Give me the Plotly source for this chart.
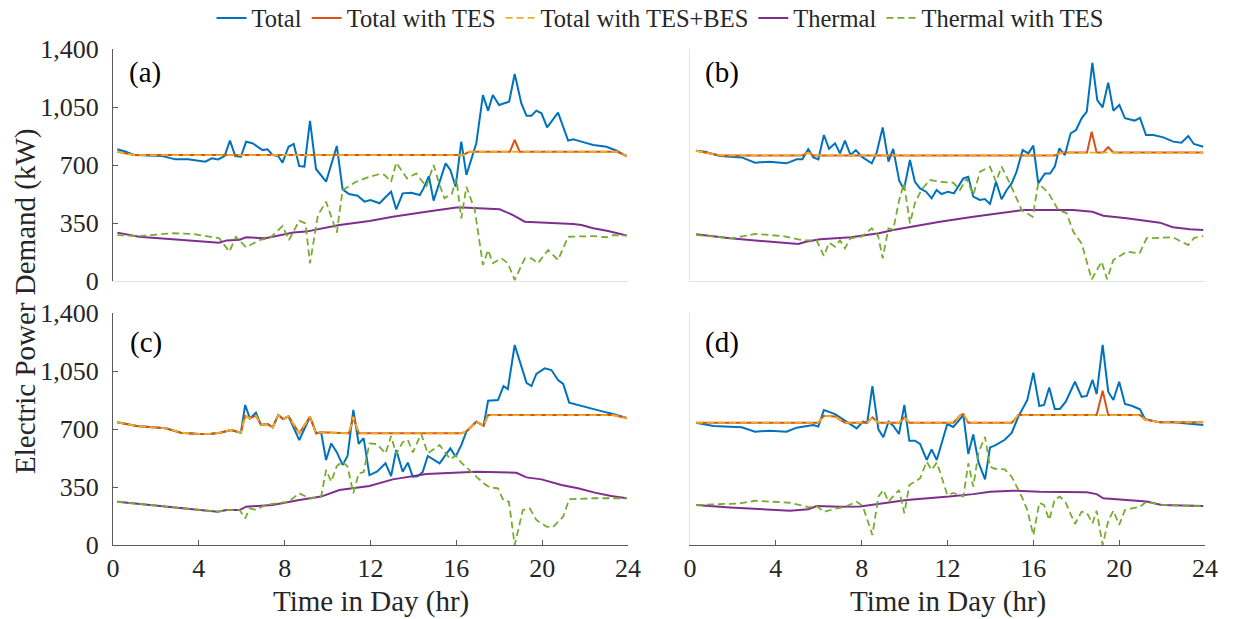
import plotly.graph_objects as go
from plotly.subplots import make_subplots

# ---------------- Panel (a) ----------------
A_TOTAL_T = [0.2,0.6,1.0,2.3,2.9,3.5,4.3,4.6,4.9,5.2,5.45,5.7,5.96,6.2,6.5,6.74,6.97,7.2,7.44,7.7,7.9,8.18,8.42,8.68,8.92,9.18,9.46,9.93,10.43,10.7,11.0,11.4,11.72,12.0,12.42,12.65,12.96,13.2,13.5,13.9,14.3,14.47,14.72,14.94,15.3,15.5,15.72,15.97,16.23,16.47,16.93,17.24,17.48,17.7,17.99,18.46,18.72,19.03,19.27,19.5,19.73,19.97,20.23,20.74,21.21,21.45,21.83,22.38,23.0,23.47,23.94]
A_TOTAL = [795,780,760,754,734,734,720,740,734,754,847,754,750,840,831,810,790,795,760,754,714,810,827,694,690,967,676,599,815,553,525,515,479,489,469,499,539,432,529,533,519,559,633,485,633,710,670,569,841,640,831,1122,1028,1122,1062,1082,1249,1072,997,997,1028,1012,927,1016,847,855,841,821,810,786,754]
A_TES_T = [0.2,1.0,16.3,16.6,18.5,18.72,18.95,23.5,23.94]
A_TES = [780,760,760,780,780,851,780,780,754]
A_BES = [780,760,760,780,780,780,780,780,754]
A_TH_T = [0.2,1.21,4.95,5.3,5.9,6.2,7.1,7.9,8.4,9.0,9.5,10.55,11.95,13.04,14.6,16.0,16.3,18.02,18.64,19.19,21.44,21.83,22.38,23.07,23.94]
A_TH = [292,267,231,245,249,264,258,278,292,298,312,338,362,388,418,444,444,433,398,358,344,338,318,302,274]
A_THT_T = [0.2,1.2,2.77,3.7,4.95,5.42,5.73,6.2,6.86,7.3,7.9,8.2,8.68,8.97,9.18,9.55,9.93,10.43,10.7,11.33,11.95,12.42,12.65,12.96,13.2,13.7,14.13,14.6,14.94,15.22,15.45,15.8,16.0,16.23,16.47,16.86,17.24,17.48,17.7,18.1,18.4,18.72,19.19,19.5,19.8,20.28,20.74,21.21,22.38,23.0,23.3,23.94]
A_THT = [277,271,288,284,258,177,267,203,249,258,332,247,364,348,107,398,478,292,549,599,629,645,640,599,714,619,649,569,700,579,499,529,619,378,569,428,97,187,107,137,107,6,137,137,107,187,127,267,271,264,277,274]

# ---------------- Panel (b) ----------------
B_TOTAL_T = [0.28,0.7,1.4,2.41,3.03,3.7,4.5,4.97,5.24,5.51,5.75,5.98,6.24,6.48,6.76,6.99,7.22,7.48,7.73,8.0,8.47,8.7,8.98,9.25,9.47,9.75,9.97,10.25,10.48,10.72,11.0,11.26,11.49,11.72,12.03,12.3,12.74,12.97,13.2,13.5,13.74,13.98,14.26,14.52,14.76,14.99,15.22,15.5,15.77,16.0,16.23,16.54,16.78,17.0,17.21,17.47,17.74,17.99,18.25,18.49,18.75,18.98,19.23,19.49,19.73,20.01,20.27,20.72,20.97,21.25,21.6,22.06,22.52,22.9,23.22,23.48,23.92]
B_TOTAL = [786,780,754,746,714,720,710,734,734,795,746,734,881,798,831,770,847,760,790,750,710,775,927,720,797,605,553,730,599,559,539,499,549,525,539,529,619,629,509,489,495,465,599,493,549,589,660,790,770,817,589,649,649,690,800,760,891,911,982,1022,1317,1092,1048,1197,1028,1062,982,968,984,881,881,867,841,835,875,827,810]
B_TES_T = [0.28,1.4,5.24,5.51,5.75,17.0,17.3,18.5,18.72,18.95,19.25,19.49,19.73,23.92]
B_TES = [786,758,758,775,758,758,775,775,901,775,775,807,775,775]
B_BES = [786,758,758,775,758,758,775,775,775,775,775,775,775,775]
B_TH_T = [0.28,1.86,5.05,5.4,6.06,7.5,8.8,9.47,11.65,13.2,15.53,17.86,18.75,19.26,20.35,21.9,22.5,23.3,23.92]
B_TH = [282,258,223,237,252,264,288,308,358,388,428,428,418,394,378,352,324,312,308]
B_THT_T = [0.28,2.0,3.03,4.35,5.05,5.4,5.9,6.24,6.48,6.76,6.99,7.22,7.48,8.0,8.47,8.77,8.98,9.25,9.47,9.75,9.97,10.25,10.48,10.78,11.18,11.65,12.27,12.58,12.89,13.2,13.52,13.98,14.26,14.52,14.91,15.46,15.97,16.23,16.7,17.16,17.55,17.86,18.25,18.72,19.18,19.44,19.73,20.03,20.35,20.95,21.28,22.5,23.22,23.5,23.92]
B_THT = [278,258,284,271,251,245,245,151,231,207,245,197,258,268,318,270,137,318,310,489,589,348,469,549,609,599,593,549,619,519,660,690,599,690,589,428,388,589,533,428,410,298,227,10,117,10,127,150,177,167,258,264,217,260,271]

# ---------------- Panel (c) ----------------
C_TOTAL_T = [0.2,1.1,2.46,3.16,4.0,4.5,4.98,5.5,5.96,6.16,6.38,6.66,6.9,7.2,7.44,7.7,7.93,8.18,8.68,9.18,9.47,9.7,9.93,10.17,10.43,10.7,10.93,11.2,11.45,11.68,11.95,12.3,12.7,12.96,13.2,13.5,13.74,13.97,14.2,14.43,14.67,15.22,15.72,15.97,16.23,16.47,16.93,17.27,17.48,17.94,18.2,18.4,18.72,19.27,19.5,19.73,20.12,20.43,20.74,20.98,21.26,22.38,22.85,23.3,23.94]
C_TOTAL = [741,718,704,678,670,670,678,694,678,845,764,798,724,730,710,784,760,776,633,774,674,680,513,613,560,483,537,815,611,645,422,442,493,416,573,442,497,412,415,440,537,493,583,533,603,684,744,720,871,875,959,941,1207,979,959,1032,1066,1056,996,972,859,819,805,791,766]
C_TES_T = [0.2,1.1,2.46,3.16,4.0,4.5,4.98,5.5,5.96,6.16,6.38,6.66,6.9,7.2,7.44,7.7,7.93,8.18,8.68,9.18,9.47,9.7,11.0,11.2,11.45,16.23,16.47,16.93,17.27,17.48,23.3,23.94]
C_TES = [741,718,704,678,670,670,678,694,678,780,764,780,724,730,710,784,760,776,674,774,674,680,674,774,674,674,686,744,720,784,784,766]
C_BES = [741,718,704,678,670,670,678,694,678,780,764,780,724,730,710,784,760,776,674,774,674,680,674,774,674,674,686,744,720,784,784,766]
C_TH_T = [0.2,2.46,4.87,5.3,5.9,6.2,7.44,8.68,9.7,10.55,11.95,13.04,14.6,16.15,16.93,18.8,19.27,19.97,20.9,21.67,22.45,23.22,23.94]
C_TH = [261,231,201,211,211,231,241,272,292,332,356,396,428,438,442,436,408,396,362,342,316,296,282]
C_THT_T = [0.2,2.46,4.87,5.3,5.9,6.16,6.38,6.66,7.1,8.18,8.68,9.18,9.7,9.93,10.17,10.43,10.7,10.93,11.2,11.45,11.68,11.95,12.3,12.7,12.96,13.2,13.5,13.74,13.97,14.36,14.67,15.22,15.72,15.97,16.23,16.78,17.27,17.55,17.94,18.2,18.45,18.72,19.1,19.42,19.73,20.2,20.5,20.98,21.26,22.38,23.3,23.94]
C_THT = [261,231,201,211,211,161,221,211,241,262,312,280,292,453,382,477,503,473,312,432,440,613,609,553,658,549,621,635,559,670,553,603,517,540,497,432,372,348,342,267,261,0,211,221,151,111,107,171,276,282,282,282]

# ---------------- Panel (d) ----------------
D_TOTAL_T = [0.28,1.09,2.41,3.03,3.7,4.5,4.97,5.75,5.98,6.24,6.76,7.22,7.77,8.05,8.26,8.5,8.78,9.01,9.25,9.47,9.74,9.99,10.22,10.48,10.72,11.03,11.26,11.5,11.8,11.99,12.27,12.74,12.97,13.2,13.45,13.75,13.98,14.2,14.67,14.99,15.3,15.72,16.0,16.28,16.5,16.74,17.0,17.24,17.51,17.94,18.25,18.49,18.76,18.95,19.23,19.49,19.73,20.0,20.27,20.58,20.97,21.2,21.9,22.52,23.92]
D_TOTAL = [738,718,710,684,690,684,708,724,715,815,790,750,704,744,738,959,698,650,744,720,670,845,629,629,610,513,577,513,640,730,712,784,549,667,497,396,589,600,635,676,774,875,1040,839,845,951,821,821,865,985,894,900,996,911,1207,925,875,985,851,840,819,760,740,740,724]
D_TES_T = [0.28,5.98,6.24,6.76,7.22,8.26,8.5,8.78,9.74,9.99,10.22,12.27,12.6,12.74,12.97,15.0,15.3,18.95,19.23,19.49,20.97,21.2,21.9,23.92]
D_TES = [738,738,780,775,738,738,770,738,738,770,738,738,784,790,738,738,784,784,931,784,784,757,740,740]
D_BES = [738,738,780,775,738,738,770,738,738,770,738,738,784,790,738,738,784,784,784,784,784,757,740,740]
D_TH_T = [0.28,1.86,4.66,5.51,5.9,6.99,7.93,8.87,10.1,12.08,13.2,13.98,15.06,16.3,18.49,18.95,19.26,20.35,21.28,21.98,23.92]
D_TH = [241,227,207,215,235,231,233,251,272,292,307,322,328,322,318,307,282,272,262,241,235]
D_THT_T = [0.28,2.33,3.03,4.66,5.59,5.9,6.24,6.76,7.22,7.77,8.05,8.5,8.78,9.01,9.25,9.74,9.99,10.22,10.72,11.03,11.26,11.5,11.65,11.99,12.27,12.74,12.97,13.2,13.45,13.75,13.98,14.2,14.67,14.99,15.46,15.72,16.0,16.28,16.5,16.74,17.0,17.24,17.51,17.94,18.25,18.49,18.76,18.95,19.23,19.49,19.73,20.0,20.27,20.97,21.28,21.98,23.92]
D_THT = [241,251,267,255,227,235,199,219,231,261,235,60,292,332,262,332,191,362,402,503,453,497,442,302,314,292,493,352,560,653,473,460,456,412,292,211,60,255,241,151,276,292,255,127,201,195,131,207,0,145,207,121,211,231,262,241,235]

SERIES_NAMES = ["Total", "Total with TES", "Total with TES+BES", "Thermal", "Thermal with TES"]
Y_TICKS = [0, 350, 700, 1050, 1400]
Y_TICK_TEXT = ["0", "350", "700", "1,050", "1,400"]
X_TICKS = [0, 4, 8, 12, 16, 20, 24]
PANEL_LABELS = ["(a)", "(b)", "(c)", "(d)"]

COLORS = ["#0072BD", "#D95319", "#EDB120", "#7E2F8E", "#77AC30"]
DASHES = ["solid", "solid", "7px,4px", "solid", "7px,4px"]
WIDTHS = [2, 2, 1.8, 2, 1.8]
FONT = "'Liberation Serif', 'Times New Roman', Tinos, 'DejaVu Serif', serif"
DARK = "#5a5a5a"
LIGHT = "#e3e3e3"

panels = [
    (1, 1, [(A_TOTAL_T, A_TOTAL), (A_TES_T, A_TES), (A_TES_T, A_BES), (A_TH_T, A_TH), (A_THT_T, A_THT)]),
    (1, 2, [(B_TOTAL_T, B_TOTAL), (B_TES_T, B_TES), (B_TES_T, B_BES), (B_TH_T, B_TH), (B_THT_T, B_THT)]),
    (2, 1, [(C_TOTAL_T, C_TOTAL), (C_TES_T, C_TES), (C_TES_T, C_BES), (C_TH_T, C_TH), (C_THT_T, C_THT)]),
    (2, 2, [(D_TOTAL_T, D_TOTAL), (D_TES_T, D_TES), (D_TES_T, D_BES), (D_TH_T, D_TH), (D_THT_T, D_THT)]),
]

fig = make_subplots(rows=2, cols=2)
for i, (r, c, series) in enumerate(panels):
    for j, (t, v) in enumerate(series):
        assert len(t) == len(v), (i, j, len(t), len(v))
        fig.add_trace(go.Scatter(
            x=t, y=v, mode="lines", name=SERIES_NAMES[j], legendgroup=SERIES_NAMES[j],
            showlegend=(i == 0),
            line=dict(color=COLORS[j], width=WIDTHS[j], dash=DASHES[j]),
        ), row=r, col=c)

W, H = 1233, 619
ML, MR, MT, MB = 113, 28, 49, 74
PW, PH = W - ML - MR, H - MT - MB

def px_x(x):
    return (x - ML) / PW

def px_y(y):
    return (H - MB - y) / PH

xl = [0.0, px_x(628)]
xr = [px_x(690), 1.0]
yt = [px_y(281), 1.0]
yb = [0.0, px_y(313)]

tickfont = dict(family=FONT, size=26, color="#262626")

def xaxis_cfg(domain, bottom):
    d = dict(domain=domain, range=[0, 24], showgrid=False, zeroline=False, showline=True,
             linewidth=1, fixedrange=True)
    if bottom:
        d.update(linecolor=DARK, ticks="inside", ticklen=5, tickcolor=DARK, tickvals=X_TICKS,
                 showticklabels=True, tickfont=tickfont, ticklabelstandoff=0)
    else:
        d.update(linecolor=LIGHT, ticks="", showticklabels=False)
    return d

def yaxis_cfg(domain, left):
    d = dict(domain=domain, range=[0, 1400], showgrid=False, zeroline=False, showline=True,
             linewidth=1, fixedrange=True)
    if left:
        d.update(linecolor=DARK, ticks="inside", ticklen=5, tickcolor=DARK, tickvals=Y_TICKS,
                 ticktext=Y_TICK_TEXT, showticklabels=True, tickfont=tickfont, ticklabelstandoff=8)
    else:
        d.update(linecolor=LIGHT, ticks="", showticklabels=False)
    return d

fig.update_layout(
    width=W, height=H,
    margin=dict(l=ML, r=MR, t=MT, b=MB, autoexpand=False),
    paper_bgcolor="white", plot_bgcolor="white",
    font=dict(family=FONT, color="#262626"),
    xaxis=xaxis_cfg(xl, False), yaxis=yaxis_cfg(yt, True),
    xaxis2=xaxis_cfg(xr, False), yaxis2=yaxis_cfg(yt, False),
    xaxis3=xaxis_cfg(xl, True), yaxis3=yaxis_cfg(yb, True),
    xaxis4=xaxis_cfg(xr, True), yaxis4=yaxis_cfg(yb, False),
    legend=dict(orientation="h", x=px_x(660), xanchor="center", y=px_y(18), yanchor="middle",
                font=dict(family=FONT, size=24.5, color="#262626"), bgcolor="rgba(0,0,0,0)",
                itemwidth=30, tracegroupgap=0),
)

ann = []
label_pos = [(127, 73), (703, 73), (128, 342), (703, 342)]
for lab, (x, y) in zip(PANEL_LABELS, label_pos):
    ann.append(dict(text=lab, x=px_x(x), y=px_y(y), xref="paper", yref="paper",
                    xanchor="left", yanchor="middle", showarrow=False,
                    font=dict(family=FONT, size=29, color="#000")))
for cx in (371, 947.5):
    ann.append(dict(text="Time in Day (hr)", x=px_x(cx), y=px_y(601), xref="paper", yref="paper",
                    xanchor="center", yanchor="middle", showarrow=False,
                    font=dict(family=FONT, size=29, color="#262626")))
ann.append(dict(text="Electric Power Demand (kW)", x=px_x(25), y=px_y(302), xref="paper", yref="paper",
                xanchor="center", yanchor="middle", textangle=-90, showarrow=False,
                font=dict(family=FONT, size=29, color="#262626")))
fig.update_layout(annotations=ann)

fig.write_html("out.html")
